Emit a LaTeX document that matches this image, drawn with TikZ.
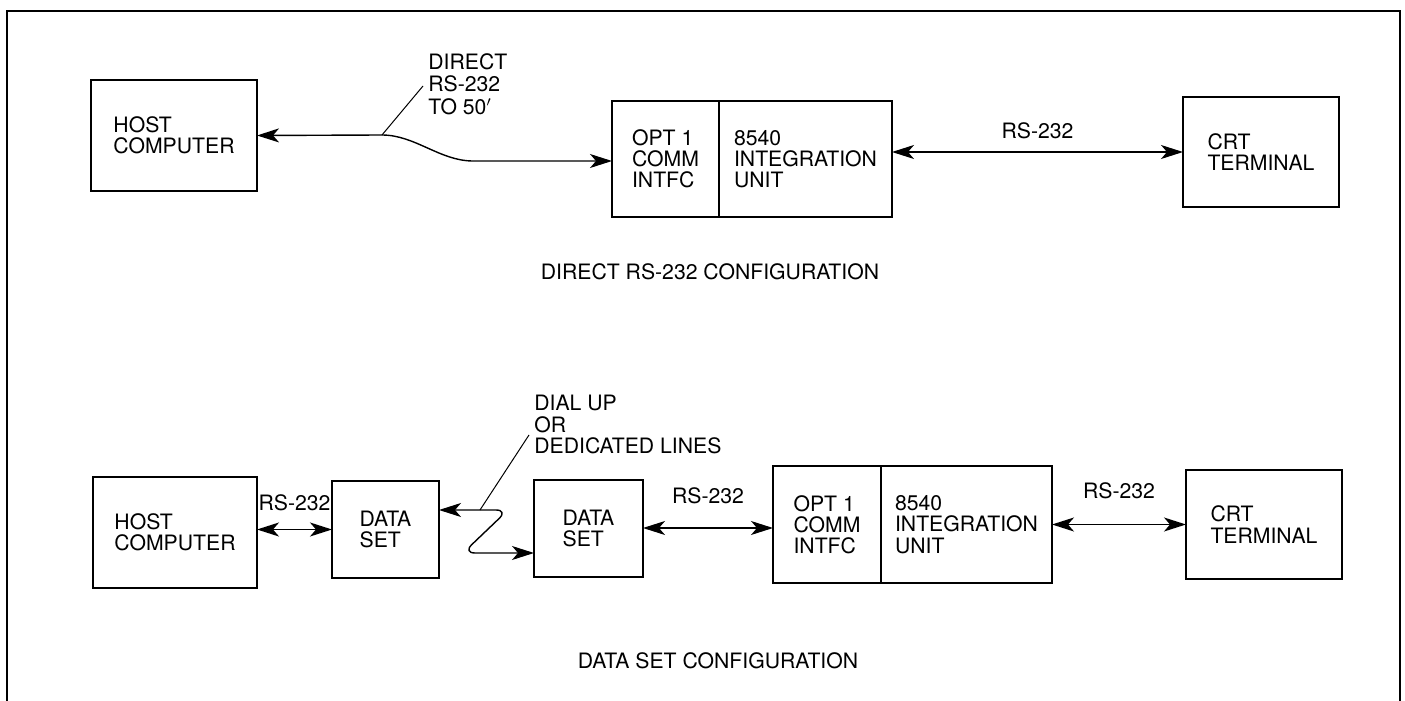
\documentclass[tikz,border=0pt]{standalone}
\usepackage{fontspec}
\setmainfont{TeX Gyre Heros}
\usetikzlibrary{arrows.meta,positioning}
\begin{document}
\begin{tikzpicture}[x=0.5pt,y=-0.5pt,>={Stealth[length=11pt,width=7pt,inset=3pt]},
    font=\fontsize{10.6}{10.6}\selectfont,
    box/.style={draw,line width=1pt,align=left,inner sep=0pt,outer sep=0pt},
    wire/.style={line width=0.7pt},
    leader/.style={line width=0.5pt},
    lbl/.style={inner sep=0pt,align=left}]
  \useasboundingbox (0,0) rectangle (1405,701);
  \draw[line width=1.2pt] (7,701) -- (7,11) -- (1400,11) -- (1400,701);
  % direct RS-232
  \node[box,minimum width=83pt,minimum height=55.5pt] (host1) at (174,135.5) {HOST\\COMPUTER};
  \node[box,minimum width=53.5pt,minimum height=58pt] (opt1) at (665.5,159) {OPT 1\\COMM\\INTFC};
  \node[box,minimum width=86.5pt,minimum height=58pt,right=0pt of opt1] (unit1) {8540\\INTEGRATION\\UNIT};
  \node[box,minimum width=78pt,minimum height=55pt] (crt1) at (1261,152) {CRT\\TERMINAL};
  \node[lbl,inner sep=2.5pt,anchor=north west,font=\fontsize{10.6}{11.2}\selectfont] (direct) at (423,48) {DIRECT\\RS-232\\TO 50$'$};
  \coordinate (tap1) at (382,135);
  \draw[wire,<->] (host1.east) -- (tap1) .. controls (415,135) and (440,161) .. (473,161) -- (opt1.west |- 0,161);
  \draw[leader] (tap1) -- (direct.west |- 0,86);
  \draw[wire,<->] (crt1.west -| unit1.east) -- (crt1.west) node[midway,above=6pt,lbl] {RS-232};
  \node[lbl] (cap1) at (710,272) {DIRECT RS-232 CONFIGURATION};
  % data set
  \node[box,minimum width=82pt,minimum height=55.5pt] (host2) at (175,532.5) {HOST\\COMPUTER};
  \node[box,minimum width=53.5pt,minimum height=48.5pt] (ds1) at (385.5,529.5) {DATA\\SET};
  \node[box,minimum width=54.5pt,minimum height=48.5pt] (ds2) at (588.5,528.5) {DATA\\SET};
  \node[box,minimum width=54pt,minimum height=58.5pt] (opt2) at (827,524.5) {OPT 1\\COMM\\INTFC};
  \node[box,minimum width=85.5pt,minimum height=58.5pt,right=0pt of opt2] (unit2) {8540\\INTEGRATION\\UNIT};
  \node[box,minimum width=78pt,minimum height=54.5pt] (crt2) at (1264,524.5) {CRT\\TERMINAL};
  \node[lbl,inner sep=2.5pt,anchor=north west] (dial) at (529,390) {DIAL UP\\OR\\DEDICATED LINES};
  \coordinate (tap2) at (480,510);
  \draw[wire,<->] (host2.east |- ds1.west) -- (ds1.west) node[midway,above=9pt,lbl] {RS-232};
  \draw[wire,<->,rounded corners=6pt] (ds1.east |- tap2) -- (508,510) -- (463,553) -- (ds2.west |- 0,553);
  \draw[leader] (tap2) -- (dial.west |- 0,435);
  \draw[wire,<->] (ds2.east |- 0,528) -- (opt2.west |- 0,528) node[midway,above=11.5pt,lbl] {RS-232};
  \draw[wire,<->] (crt2.west -| unit2.east) -- (crt2.west) node[midway,above=12.5pt,lbl] {RS-232};
  \node[lbl] (cap2) at (718,661) {DATA SET CONFIGURATION};
\end{tikzpicture}
\end{document}
